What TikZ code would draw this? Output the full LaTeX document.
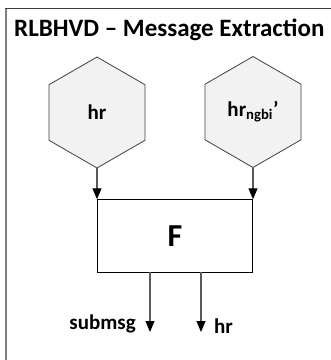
\documentclass[tikz,border=0pt]{standalone}
\usepackage{fontspec}
\setmainfont{Carlito}
\usetikzlibrary{shapes.geometric,arrows.meta}
\definecolor{hexfill}{HTML}{F2F2F2}
\definecolor{hexline}{HTML}{404040}
\definecolor{arrline}{HTML}{595959}
\definecolor{framel}{HTML}{7F7F7F}
\begin{document}
\begin{tikzpicture}[x=1pt,y=-1pt,
  hexnode/.style={regular polygon,regular polygon sides=6,regular polygon rotate=30,
    minimum size=111pt,inner sep=0pt,outer sep=0pt,fill=hexfill,draw=hexline,line width=0.8pt,
    font=\bfseries\fontsize{21}{24}\selectfont},
  fbox/.style={rectangle,draw=black,line width=0.8pt,fill=white,minimum width=155.4pt,minimum height=73pt,
    inner sep=0pt,outer sep=0pt,font=\bfseries\fontsize{32}{36}\selectfont},
  flow/.style={draw=arrline,line width=1.2pt,-{Triangle[length=11pt,width=9pt,fill=black,color=black]}},
  lbl/.style={inner sep=0pt,font=\bfseries\fontsize{21}{24}\selectfont}]
\useasboundingbox (0,0) rectangle (331,360);
% frame
\draw[framel,line width=2pt] (6.5,361) -- (6.5,8.5);
\draw[black!75,line width=1pt] (5.5,8.5) -- (332,8.5);
\node[anchor=west,inner sep=0pt,font=\bfseries\fontsize{25}{28}\selectfont] (title) at (14,30) {RLBHVD – Message Extraction};
% hexagons
\node[hexnode] (h1) at (97,112.5) {hr};
\node[hexnode] (h2) at (253,112) {hr\textsubscript{ngbi}’};
% box
\node[fbox] (F) at (175,235.8) {F};
% input arrows
\draw[flow] (h1.south) -- (h1.south |- F.north);
\draw[flow] (h2.south) -- (h2.south |- F.north);
% outputs
\coordinate (o1) at (150,332);
\coordinate (o2) at (201,332);
\draw[flow] (F.south -| o1) -- (o1);
\draw[flow] (F.south -| o2) -- (o2);
\node[lbl,anchor=east] (l1) at (136,324) {submsg};
\node[lbl,anchor=west] (l2) at (214,326) {hr};
\end{tikzpicture}
\end{document}
